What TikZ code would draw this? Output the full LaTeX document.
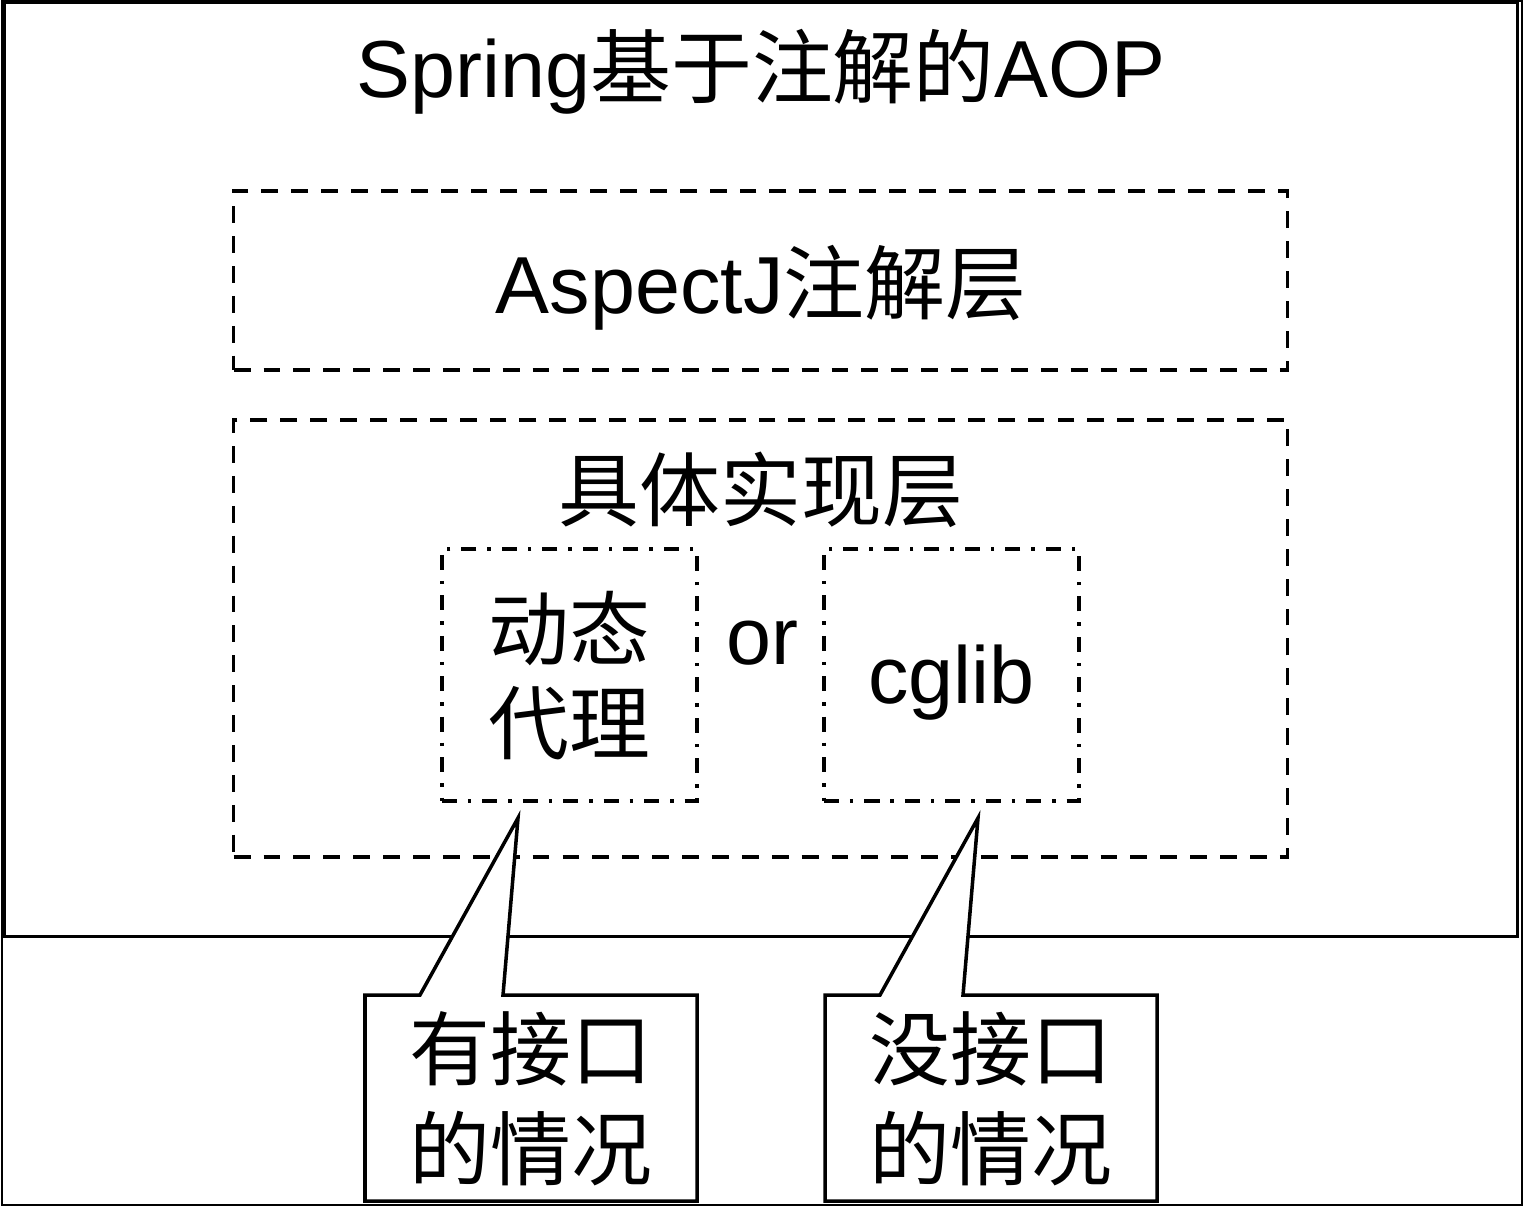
\documentclass[tikz,border=0pt]{standalone}
\usepackage{fontspec}
\setmainfont{Liberation Sans}
\newfontfamily\cjk{Noto Sans CJK SC}

\begin{document}
\begin{tikzpicture}[x=0.01cm, y=-0.01cm,
   every node/.style={font=\fontsize{23}{27}\selectfont, inner sep=0pt},
   lbl/.style={anchor=base, align=center},
   box/.style={draw, line width=1pt},
   dashbox/.style={box, dash pattern=on 4.8pt off 3.7pt},
   dotbox/.style={box, dash pattern=on 4.3pt off 3.1pt on 1pt off 3.1pt},
   callout/.style={draw, fill=white, line width=1pt, line join=miter}]
 \useasboundingbox (0,0) rectangle (1525,1213);
 \draw[line width=0.7pt] (2,1) rectangle (1522,1205);

 % the big frame and its layers
 \node[box, minimum width=15.125cm, minimum height=9.335cm] (spring) at (760.75,469.25) {};
 \node[lbl] (title) at (761,98) {Spring{\cjk 基于注解的}AOP};
 \node[dashbox, minimum width=10.53cm, minimum height=1.79cm] (aspect) at (760.5,280.5) {};
 \node[lbl] (aspecttxt) at (761,314) {AspectJ{\cjk 注解层}};
 \node[dashbox, minimum width=10.53cm, minimum height=4.37cm] (impl) at (760.5,638.5) {};
 \node[lbl] (impltxt) at (761,521) {\cjk 具体实现层};

 % the two ways
 \node[dotbox, minimum width=2.55cm, minimum height=2.52cm] (proxy) at (569.5,675) {};
 \node[lbl, font=\fontsize{23}{26.7}\selectfont\cjk] (proxytxt) at (569.5,753) {动态\\代理};
 \node[lbl] (or) at (762,664) {or};
 \node[dotbox, minimum width=2.55cm, minimum height=2.52cm] (cglib) at (951.5,675) {};
 \node[lbl] (cglibtxt) at (951.5,703) {cglib};

 % callouts
 \coordinate (tipA) at (518,818);
 \coordinate (tipB) at (978,818);
 \filldraw[callout] (365,995) -- (420,995) -- (tipA) -- (503,995) -- (697,995)
    -- (697,1201) -- (365,1201) -- cycle;
 \node[lbl, font=\fontsize{23}{28.2}\selectfont\cjk] (withif) at (531,1179) {有接口\\的情况};
 \filldraw[callout] (825,995) -- (880,995) -- (tipB) -- (963,995) -- (1157,995)
    -- (1157,1201) -- (825,1201) -- cycle;
 \node[lbl, font=\fontsize{23}{28.2}\selectfont\cjk] (noif) at (991,1179) {没接口\\的情况};
\end{tikzpicture}
\end{document}
